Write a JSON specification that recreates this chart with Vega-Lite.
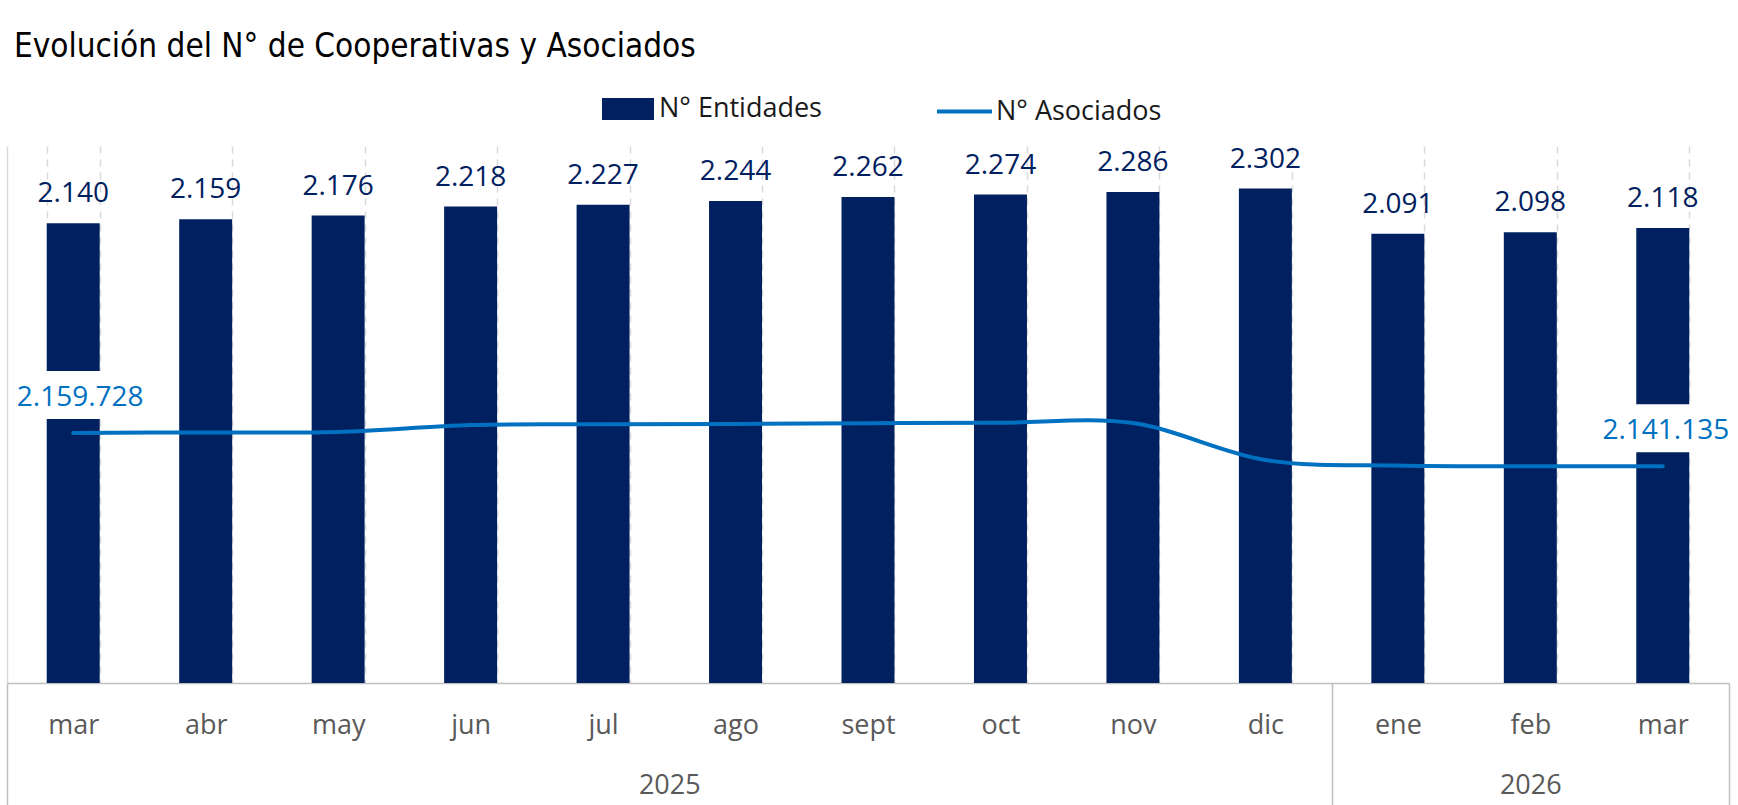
{
  "$schema": "https://vega.github.io/schema/vega-lite/v6.json",
  "width": 1722,
  "height": 537,
  "autosize": {"type": "none"},
  "padding": {"left": 7, "top": 146, "right": 9, "bottom": 122},
  "background": "white",
  "title": {
    "text": "Evolución del N° de Cooperativas y Asociados",
    "anchor": "start",
    "frame": "group",
    "font": "Liberation Sans Narrow, DejaVu Sans Condensed, sans-serif",
    "fontSize": 33,
    "fontWeight": "normal",
    "color": "#000000",
    "baseline": "alphabetic",
    "offset": 27,
    "dy": 35,
    "dx": 7
  },
  "config": {
    "view": {"stroke": null},
    "locale": {"number": {"decimal": ",", "thousands": ".", "grouping": [3], "currency": ["$", ""]}}
  },
  "data": {
    "values": [
      {"key": "2025-mar", "idx": 0, "entidades": 2140, "asociados": 2159728},
      {"key": "2025-abr", "idx": 1, "entidades": 2159, "asociados": 2160000},
      {"key": "2025-may", "idx": 2, "entidades": 2176, "asociados": 2160200},
      {"key": "2025-jun", "idx": 3, "entidades": 2218, "asociados": 2164100},
      {"key": "2025-jul", "idx": 4, "entidades": 2227, "asociados": 2164500},
      {"key": "2025-ago", "idx": 5, "entidades": 2244, "asociados": 2164700},
      {"key": "2025-sept", "idx": 6, "entidades": 2262, "asociados": 2165100},
      {"key": "2025-oct", "idx": 7, "entidades": 2274, "asociados": 2165400},
      {"key": "2025-nov", "idx": 8, "entidades": 2286, "asociados": 2165200},
      {"key": "2025-dic", "idx": 9, "entidades": 2302, "asociados": 2144600},
      {"key": "2026-ene", "idx": 10, "entidades": 2091, "asociados": 2141500},
      {"key": "2026-feb", "idx": 11, "entidades": 2098, "asociados": 2141100},
      {"key": "2026-mar", "idx": 12, "entidades": 2118, "asociados": 2141135}
    ]
  },
  "layer": [
    {
      "mark": {"type": "bar"},
      "encoding": {
        "x": {
          "field": "key", "type": "nominal", "sort": null,
          "scale": {"type": "band", "paddingInner": 0.6, "paddingOuter": 0.3},
          "axis": {
            "orient": "bottom",
            "title": null,
            "labelExpr": "split(datum.label, '-')[1]",
            "labelAngle": 0,
            "labelFont": "Open Sans",
            "labelFontSize": 27,
            "labelColor": "#595959",
            "labelBaseline": "middle",
            "labelPadding": 42,
            "ticks": false,
            "tickSize": 0,
            "tickBand": "extent",
            "domain": true,
            "domainColor": "#bfbfbf",
            "domainWidth": 1.5,
            "grid": true,
            "gridColor": "#d9d9d9",
            "gridDash": [7, 6],
            "gridWidth": 1.5
          }
        },
        "y": {
          "field": "entidades", "type": "quantitative",
          "scale": {"domain": [0, 2500]},
          "axis": {"title": null, "labels": false, "ticks": false, "grid": false, "domain": true, "domainColor": "#d9d9d9", "domainWidth": 1.5}
        },
        "fill": {
          "datum": "N° Entidades",
          "scale": {"domain": ["N° Entidades"], "range": ["#002060"]},
          "legend": {
            "title": null,
            "orient": "none",
            "legendX": 595,
            "legendY": -63,
            "direction": "horizontal",
            "labelFont": "Open Sans",
            "labelFontSize": 27,
            "labelColor": "#1a1a1a",
            "labelOffset": 5,
            "labelLimit": 400,
            "symbolType": "M-1,-0.42H1V0.42H-1Z",
            "symbolSize": 2704,
            "symbolStrokeWidth": 0
          }
        }
      }
    },
    {
      "mark": {"type": "text", "font": "Open Sans", "fontSize": 28, "color": "#002060", "baseline": "alphabetic", "dy": -21},
      "encoding": {
        "x": {"field": "key", "type": "nominal", "sort": null, "scale": {"type": "band", "paddingInner": 0.6, "paddingOuter": 0.3}, "axis": null},
        "y": {"field": "entidades", "type": "quantitative", "scale": {"domain": [0, 2500]}, "axis": null},
        "text": {"field": "entidades", "type": "quantitative", "format": ",d"}
      }
    },
    {
      "transform": [{"filter": "datum.key == '2025-mar' || datum.key == '2026-mar'"}],
      "mark": {"type": "point", "shape": "M-1,-1.03L1,-1.03L1,-0.23L-1,-0.23Z", "size": 14400, "filled": true, "color": "white", "opacity": 1, "strokeWidth": 0},
      "encoding": {
        "x": {"field": "key", "type": "nominal", "sort": null, "scale": {"type": "band", "paddingInner": 0.6, "paddingOuter": 0.3, "domain": ["2025-mar", "2025-abr", "2025-may", "2025-jun", "2025-jul", "2025-ago", "2025-sept", "2025-oct", "2025-nov", "2025-dic", "2026-ene", "2026-feb", "2026-mar"]}, "axis": null},
        "y": {"field": "asociados", "type": "quantitative", "scale": {"domain": [2020000, 2320000], "zero": false}, "axis": null}
      }
    },
    {
      "mark": {"type": "line", "interpolate": "cardinal", "strokeWidth": 4, "strokeCap": "round"},
      "encoding": {
        "x": {"field": "key", "type": "nominal", "sort": null, "scale": {"type": "band", "paddingInner": 0.6, "paddingOuter": 0.3}, "axis": null},
        "y": {"field": "asociados", "type": "quantitative", "scale": {"domain": [2020000, 2320000], "zero": false}, "axis": null},
        "stroke": {
          "datum": "N° Asociados",
          "scale": {"domain": ["N° Asociados"], "range": ["#0070C0"]},
          "legend": {
            "title": null,
            "orient": "none",
            "legendX": 928,
            "legendY": -64,
            "direction": "horizontal",
            "labelFont": "Open Sans",
            "labelFontSize": 27,
            "labelColor": "#1a1a1a",
            "labelOffset": 2,
            "labelLimit": 400,
            "symbolType": "stroke",
            "symbolSize": 3025,
            "symbolStrokeWidth": 4
          }
        }
      }
    },
    {
      "transform": [{"filter": "datum.key == '2025-mar'"}],
      "mark": {"type": "text", "font": "Open Sans", "fontSize": 28, "color": "#0070C0", "baseline": "alphabetic", "dy": -27, "dx": 7},
      "encoding": {
        "x": {"field": "key", "type": "nominal", "sort": null, "scale": {"type": "band", "paddingInner": 0.6, "paddingOuter": 0.3, "domain": ["2025-mar", "2025-abr", "2025-may", "2025-jun", "2025-jul", "2025-ago", "2025-sept", "2025-oct", "2025-nov", "2025-dic", "2026-ene", "2026-feb", "2026-mar"]}, "axis": null},
        "y": {"field": "asociados", "type": "quantitative", "scale": {"domain": [2020000, 2320000], "zero": false}, "axis": null},
        "text": {"field": "asociados", "type": "quantitative", "format": ",d"}
      }
    },
    {
      "transform": [{"filter": "datum.key == '2026-mar'"}],
      "mark": {"type": "text", "font": "Open Sans", "fontSize": 28, "color": "#0070C0", "baseline": "alphabetic", "dy": -27, "dx": 3},
      "encoding": {
        "x": {"field": "key", "type": "nominal", "sort": null, "scale": {"type": "band", "paddingInner": 0.6, "paddingOuter": 0.3, "domain": ["2025-mar", "2025-abr", "2025-may", "2025-jun", "2025-jul", "2025-ago", "2025-sept", "2025-oct", "2025-nov", "2025-dic", "2026-ene", "2026-feb", "2026-mar"]}, "axis": null},
        "y": {"field": "asociados", "type": "quantitative", "scale": {"domain": [2020000, 2320000], "zero": false}, "axis": null},
        "text": {"field": "asociados", "type": "quantitative", "format": ",d"}
      }
    },
    {
      "mark": {"type": "point", "opacity": 0},
      "encoding": {
        "x": {
          "field": "idx", "type": "quantitative",
          "scale": {"domain": [0, 13], "nice": false, "zero": false},
          "axis": {
            "orient": "bottom",
            "title": null,
            "values": [0, 10, 13],
            "labels": false,
            "domain": false,
            "grid": false,
            "ticks": true,
            "tickSize": 122,
            "tickWidth": 1.5,
            "tickColor": "#bfbfbf"
          }
        }
      }
    },
    {
      "mark": {"type": "point", "opacity": 0},
      "encoding": {
        "x": {
          "field": "idx", "type": "quantitative",
          "scale": {"domain": [0, 13], "nice": false, "zero": false},
          "axis": {
            "orient": "bottom",
            "title": null,
            "values": [5, 11.5],
            "labelExpr": "datum.value == 5 ? '2025' : '2026'",
            "labelFont": "Open Sans",
            "labelFontSize": 27,
            "labelColor": "#595959",
            "labelBaseline": "middle",
            "labelPadding": 102,
            "labelFlush": false,
            "labelOverlap": false,
            "labelBound": false,
            "domain": false,
            "grid": false,
            "ticks": false,
            "tickSize": 0
          }
        }
      }
    }
  ],
  "resolve": {"scale": {"x": "independent", "y": "independent"}}
}
